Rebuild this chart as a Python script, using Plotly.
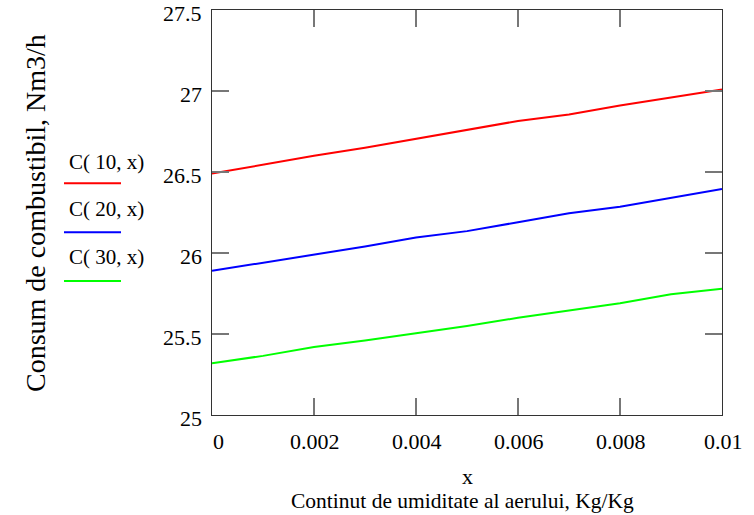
import plotly.graph_objects as go

# Data
x_vals = [0.000, 0.001, 0.002, 0.003, 0.004, 0.005, 0.006, 0.007, 0.008, 0.009, 0.010]
c10 = [26.49, 26.545, 26.60, 26.65, 26.705, 26.76, 26.815, 26.855, 26.91, 26.96, 27.01]
c20 = [25.89, 25.94, 25.99, 26.04, 26.095, 26.135, 26.19, 26.245, 26.285, 26.34, 26.395]
c30 = [25.32, 25.365, 25.42, 25.46, 25.505, 25.55, 25.60, 25.645, 25.69, 25.745, 25.78]
series_names = ["C( 10, x)", "C( 20, x)", "C( 30, x)"]
series_colors = ["#ff0000", "#0000ff", "#00ff00"]
x_ticks = [0, 0.002, 0.004, 0.006, 0.008, 0.01]
x_tick_text = ["0", "0.002", "0.004", "0.006", "0.008", "0.01"]
y_ticks = [25, 25.5, 26, 26.5, 27, 27.5]
y_tick_text = ["25", "25.5", "26", "26.5", "27", "27.5"]

FONT = "Liberation Serif"

fig = go.Figure()
for name, ys, col in zip(series_names, [c10, c20, c30], series_colors):
    fig.add_trace(go.Scatter(x=x_vals, y=ys, mode="lines", name=name,
                             line=dict(color=col, width=2), showlegend=False,
                             hoverinfo="skip"))

L, R, T, B = 212, 32, 10, 100
W, H = 754, 515
pw, ph = W - L - R, H - T - B

def px_to_paper_x(px):
    return (px - L) / pw

def px_to_paper_y(py):
    return (H - B - py) / ph

axis_common = dict(showgrid=False, zeroline=False, showline=True, linecolor="#333333",
                   linewidth=1, mirror="ticks", ticks="inside", ticklen=17,
                   tickcolor="#777777", tickwidth=1.5, showticklabels=False,
                   automargin=False)

fig.update_xaxes(range=[0, 0.01], tickvals=x_ticks, **axis_common)
fig.update_yaxes(range=[25, 27.5], tickvals=y_ticks, **axis_common)

annotations = []
tick_font = dict(family=FONT, size=22, color="black")
# x tick labels, placed through the x axis scale
for xv, txt in zip(x_ticks, x_tick_text):
    annotations.append(dict(text=txt, xref="x", yref="paper", x=xv, y=px_to_paper_y(441),
                            xanchor="center", yanchor="middle", showarrow=False,
                            xshift=6 if xv == x_ticks[0] else 1, font=tick_font))
# y tick labels, placed through the y axis scale
for yv, txt in zip(y_ticks, y_tick_text):
    annotations.append(dict(text=txt, xref="paper", yref="y", x=px_to_paper_x(204), y=yv,
                            xanchor="right", yanchor="middle", showarrow=False,
                            yshift=-3, font=tick_font))

legend_text_y = [161.7, 209, 256.7]
legend_line_y = [183.3, 232.3, 281]
shapes = []
for name, col, ty, ly in zip(series_names, series_colors, legend_text_y, legend_line_y):
    annotations.append(dict(text=name, xref="paper", yref="paper",
                            x=px_to_paper_x(67), y=px_to_paper_y(ty),
                            xanchor="left", yanchor="middle", showarrow=False,
                            font=dict(family=FONT, size=21, color="black")))
    shapes.append(dict(type="line", xref="paper", yref="paper",
                       x0=px_to_paper_x(64), x1=px_to_paper_x(121),
                       y0=px_to_paper_y(ly), y1=px_to_paper_y(ly),
                       line=dict(color=col, width=2)))

annotations.append(dict(text="x", xref="paper", yref="paper",
                        x=0.5, y=px_to_paper_y(476), xanchor="center", yanchor="middle",
                        showarrow=False, font=dict(family=FONT, size=22, color="black")))
annotations.append(dict(text="Continut de umiditate al aerului, Kg/Kg", xref="paper", yref="paper",
                        x=px_to_paper_x(462), y=px_to_paper_y(501), xanchor="center", yanchor="middle",
                        showarrow=False, font=dict(family=FONT, size=21.5, color="black")))
annotations.append(dict(text="Consum de combustibil, Nm3/h", xref="paper", yref="paper",
                        x=px_to_paper_x(35), y=px_to_paper_y(213), xanchor="center", yanchor="middle",
                        textangle=-90, showarrow=False,
                        font=dict(family=FONT, size=28, color="black")))

fig.update_layout(width=W, height=H, margin=dict(l=L, r=R, t=T, b=B, autoexpand=False),
                  paper_bgcolor="white", plot_bgcolor="white",
                  font=dict(family=FONT, color="black"),
                  hovermode=False,
                  annotations=annotations, shapes=shapes, showlegend=False)

fig.write_html("out.html", config={"displayModeBar": False, "staticPlot": True},
               post_script="document.body.style.margin='0';document.body.style.padding='0';document.body.style.overflow='hidden';")
